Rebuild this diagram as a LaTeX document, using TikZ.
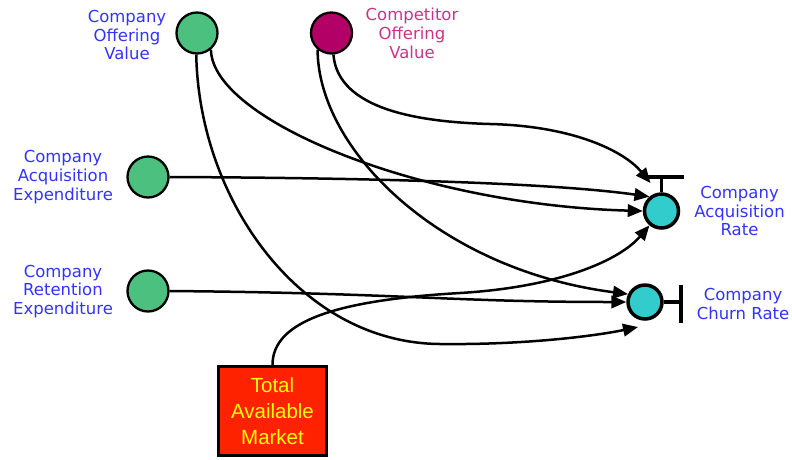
\documentclass[tikz,border=0pt]{standalone}
\usepackage{fontspec}
\setmainfont{DejaVu Sans}
\newfontfamily\boxfont{Liberation Sans}
\usetikzlibrary{arrows.meta,calc}

\definecolor{levelgreen}{HTML}{4CC07F}
\definecolor{rivalfill}{HTML}{B30066}
\definecolor{ratecyan}{HTML}{33CCCC}
\definecolor{labelblue}{HTML}{3333FF}
\definecolor{labelmagenta}{HTML}{CC3388}
\definecolor{marketred}{HTML}{FF2200}
\definecolor{marketyellow}{HTML}{FFFF00}

\tikzset{
  source/.style={circle, draw=black, line width=2.3pt, fill=levelgreen, minimum size=41pt, inner sep=0pt},
  rival/.style={source, fill=rivalfill},
  rate/.style={circle, draw=black, line width=3.5pt, fill=ratecyan, minimum size=34pt, inner sep=0pt},
  lbl/.style={align=center, inner sep=0pt, text=labelblue, font=\fontsize{16.5}{18.7}\selectfont},
  rivallbl/.style={lbl, text=labelmagenta},
  marketbox/.style={draw=black, line width=2.5pt, fill=marketred, minimum width=108pt, minimum height=89pt,
    align=center, inner sep=0pt, text=marketyellow, font=\boxfont\fontsize{20.5}{26}\selectfont},
  tip/.tip={Triangle[length=15pt,width=12.5pt]},
  conn/.style={line width=2.5pt, -tip},
  barline/.style={line width=3.8pt}
}

\begin{document}
\begin{tikzpicture}[x=1pt, y=-1pt]
\useasboundingbox (0,0) rectangle (792,459);

% stocks and inputs
\node[source] (COV) at (197,33) {};
\node[rival]  (ROV) at (331.5,33) {};
\node[source] (CAE) at (148,177) {};
\node[source] (CRE) at (148,291) {};
\node[rate]   (CAR) at (661.5,211) {};
\node[rate]   (CCR) at (645,302) {};
\node[marketbox] (TAM) at (272.5,411) {Total\\Available\\Market};

% labels
\node[lbl] (COVl) at (127,35) {Company\\Offering\\Value};
\node[rivallbl] (ROVl) at (412,33.5) {Competitor\\Offering\\Value};
\node[lbl] (CAEl) at (63,177) {Company\\Acquisition\\Expenditure};
\node[lbl] (CREl) at (63,291.5) {Company\\Retention\\Expenditure};
\node[lbl] (CARl) at (739.5,211) {Company\\Acquisition\\Rate};
\node[lbl] (CCRl) at (743,304) {Company\\Churn Rate};

% outflow bars on the rates
\draw[barline] (CAR.north) -- ++(0,-15) coordinate (CARtop);
\draw[barline] ($(CARtop)+(-19,0)$) -- ($(CARtop)+(22,0)$);
\draw[barline] (CCR.east) -- ++(17,0) coordinate (CCRend);
\draw[barline] ($(CCRend)+(0,-17)$) -- ($(CCRend)+(0,21)$);

% influences on the acquisition rate
\draw[conn] (COV.-50) .. controls (212,120) and (420,205) .. (CAR.west);
\draw[conn] (CAE.east) .. controls (400,178) and (560,184) .. (CAR.130);
\draw[conn] (ROV.-85) .. controls (338,110) and (420,122) .. (490,124)
                      .. controls (575,126) and (625,152) .. ($(CAR.center)+(-11,-28)$);
\draw[conn] (TAM.north) .. controls (272,320) and (340,300) .. (460,293)
                        .. controls (560,287) and (620,260) .. (CAR.230);

% influences on the churn rate
\draw[conn] (ROV.-130) .. controls (318,150) and (440,270) .. (CCR.155);
\draw[conn] (CRE.east) .. controls (400,293) and (450,302) .. (CCR.west);
\draw[conn] (COV.-92) .. controls (199,200) and (300,343) .. (440,344)
                      .. controls (530,345) and (600,335) .. ($(CCR.center)+(-7,25)$);
\end{tikzpicture}
\end{document}
